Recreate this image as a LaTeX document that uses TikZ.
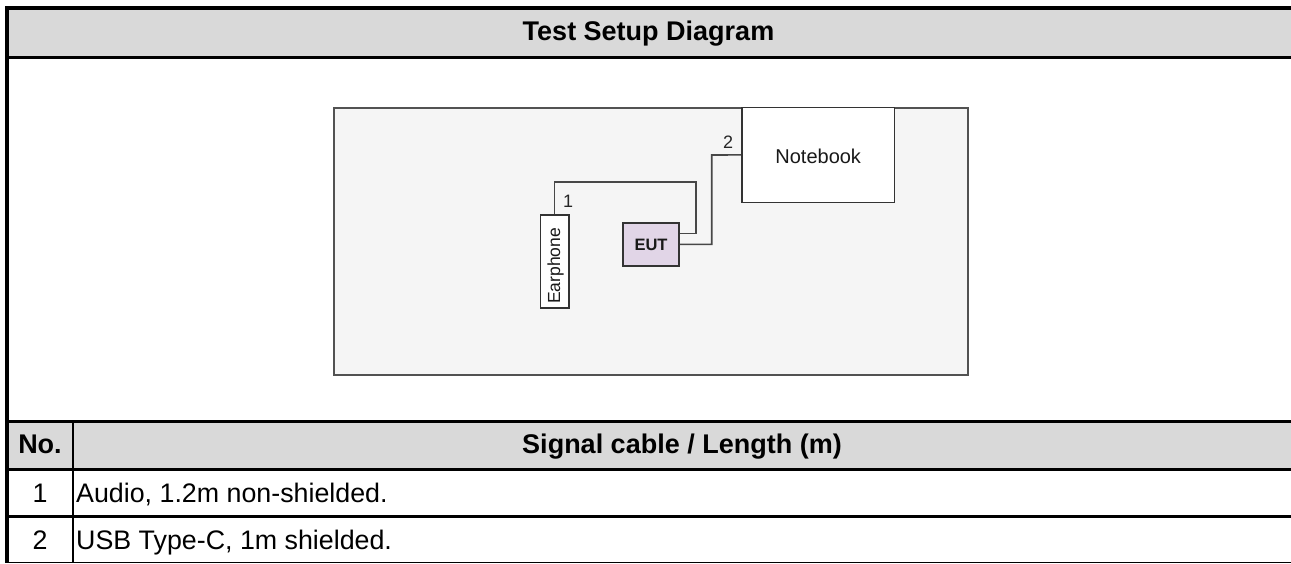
\documentclass[tikz,border=0pt]{standalone}
\usepackage{fontspec}
\setmainfont{Liberation Sans}
\begin{document}
\begin{tikzpicture}[x=1pt,y=-1pt,
  tabtxt/.style={inner sep=0pt,font=\fontsize{26.8}{30}\selectfont},
  tabhead/.style={inner sep=0pt,font=\fontsize{27}{30}\selectfont\bfseries},
  devbox/.style={draw=black!80,line width=1.5pt,inner sep=0pt},
  cable/.style={draw=black!72,line width=1.6pt},
  cablelbl/.style={inner sep=0pt,text=black!85,font=\fontsize{18}{20}\selectfont}
]
\useasboundingbox (0,0) rectangle (1291,563);
\fill[white] (0,0) rectangle (1291,563);
% gray header rows
\fill[black!15] (9,10) rectangle (1291,57.7);
\fill[black!15] (9,421.5) rectangle (1291,469.3);
% table lines
\draw[line width=4pt] (7,8) -- (1291,8);
\draw[line width=4pt] (7,6) -- (7,563);
\draw[line width=2.5pt] (7,57.7) -- (1291,57.7);
\draw[line width=3pt] (7,421.5) -- (1291,421.5);
\draw[line width=2.5pt] (7,469.3) -- (1291,469.3);
\draw[line width=2.5pt] (7,516.3) -- (1291,516.3);
\draw[line width=1.5pt] (7,562.5) -- (1291,562.5);
\draw[line width=1.8pt] (72.8,421.5) -- (72.8,563);
% table texts
\node[tabhead,anchor=base] (title) at (648.5,40) {Test Setup Diagram};
\node[tabhead,anchor=base] (hno) at (40,453) {No.};
\node[tabhead,anchor=base] (hsig) at (682,453) {Signal cable / Length (m)};
\node[tabtxt,anchor=base] (n1) at (40,502.5) {1};
\node[tabtxt,anchor=base west] (t1) at (76,502.5) {Audio, 1.2m non-shielded.};
\node[tabtxt,anchor=base] (n2) at (40,549) {2};
\node[tabtxt,anchor=base west] (t2) at (76,549) {USB Type-C, 1m shielded.};
% inner diagram
\node[draw=black!68,line width=2pt,fill=black!4,minimum width=634pt,minimum height=267pt,inner sep=0pt] (area) at (650.5,241) {};
\node[devbox,fill=white,minimum width=152.5pt,minimum height=94.8pt] (nb) at (818.2,154.9) {};
\node[inner sep=0pt,text=black!90,font=\fontsize{20}{22}\selectfont] (nbt) at (818.2,156) {Notebook};
\node[devbox,fill={rgb,255:red,225;green,213;blue,231},minimum width=56pt,minimum height=42.7pt,font=\fontsize{16.5}{18}\selectfont\bfseries,text=black!90] (eut) at (651,244.4) {EUT};
\node[devbox,fill=white,minimum width=28.7pt,minimum height=93pt] (ear) at (554.6,261.5) {};
\node[inner sep=0pt,rotate=90,text=black!90,font=\fontsize{17.5}{19}\selectfont] (eart) at (555.5,266) {Earphone};
% cables
\coordinate (k1) at (695.7,181.7);
\coordinate (k2) at (711.7,155);
\draw[cable] (ear.north) |- (k1) |- ([yshift=11pt]eut.east);
\draw[cable] (eut.east) -| (k2) -- (nb.west);
\node[cablelbl] (l1) at (568,201) {1};
\node[cablelbl] (l2) at (728,142) {2};
\end{tikzpicture}
\end{document}
